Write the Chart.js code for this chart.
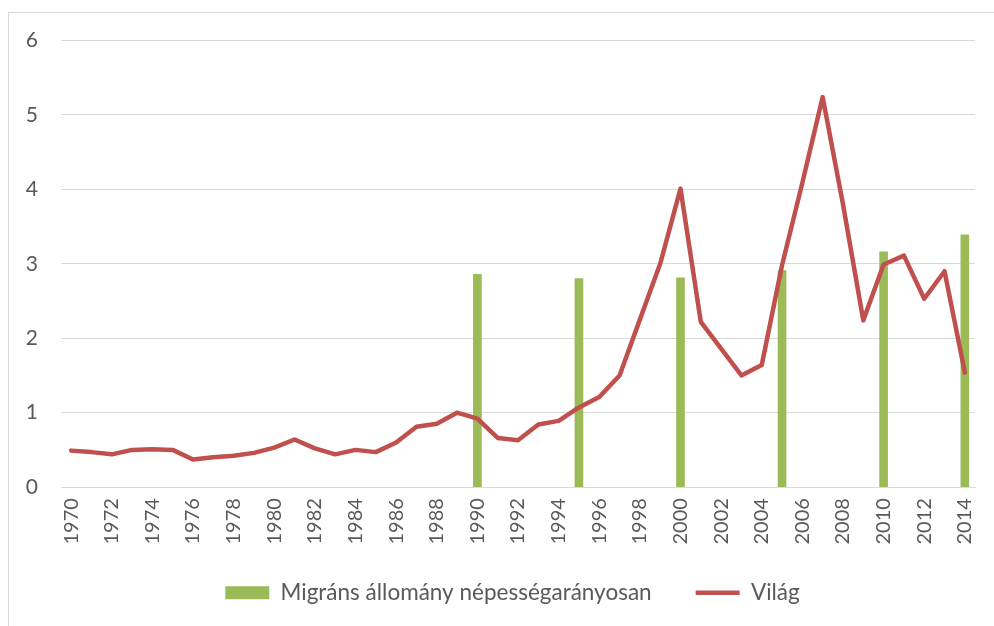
<!DOCTYPE html>
<html>
<head>
<meta charset="utf-8">
<script src="https://cdn.jsdelivr.net/npm/chart.js@4/dist/chart.umd.min.js"></script>
<style>
    html, body { margin: 0; padding: 0; background: #fff; }
    #wrap { position: relative; width: 994px; height: 626px; }
    #frame { position: absolute; left: 8px; top: 12px; width: 1000px; height: 700px; border: 1px solid #d9d9d9; box-sizing: border-box; }
    canvas { position: absolute; left: 0; top: 0; }
</style>
</head>
<body>
<div id="wrap">
    <div id="frame"></div>
    <canvas id="chart"></canvas>
</div>
<script>
// categories: every year 1970-2014
const years = [
    1970, 1971, 1972, 1973, 1974, 1975, 1976, 1977, 1978, 1979,
    1980, 1981, 1982, 1983, 1984, 1985, 1986, 1987, 1988, 1989,
    1990, 1991, 1992, 1993, 1994, 1995, 1996, 1997, 1998, 1999,
    2000, 2001, 2002, 2003, 2004, 2005, 2006, 2007, 2008, 2009,
    2010, 2011, 2012, 2013, 2014
];

// Világ (line)
const worldValues = [
    0.49, 0.47, 0.44, 0.50, 0.51, 0.50, 0.37, 0.40, 0.42, 0.46,
    0.53, 0.64, 0.52, 0.44, 0.50, 0.47, 0.60, 0.81, 0.85, 1.00,
    0.92, 0.66, 0.63, 0.84, 0.89, 1.07, 1.21, 1.50, 2.25, 3.00,
    4.01, 2.22, 1.86, 1.50, 1.64, 2.98, 4.09, 5.24, 3.80, 2.24,
    2.99, 3.11, 2.53, 2.90, 1.54
];

// Migráns állomány népességarányosan (bars, only some years)
const migrantYears = [1990, 1995, 2000, 2005, 2010, 2014];
const migrantValues = [2.86, 2.80, 2.81, 2.91, 3.16, 3.39];

const yTicks = [0, 1, 2, 3, 4, 5, 6];

const barData = years.map(y => {
    const i = migrantYears.indexOf(y);
    return i >= 0 ? migrantValues[i] : null;
});

const FONT = 'Lato, "Open Sans", sans-serif';
const GREY = '#595959';

// nudge the legend box after layout (it sits right of centre in the original)
const legendShift = {
    id: 'legendShift',
    afterLayout(chart) {
        const l = chart.legend;
        const dx = 25, dy = -18;
        l.left += dx; l.right += dx;
        l.top += dy; l.bottom += dy;
    }
};

const ctx = document.getElementById('chart').getContext('2d');
new Chart(ctx, {
    type: 'bar',
    data: {
        labels: years.map(String),
        datasets: [
            {
                type: 'bar',
                label: 'Migráns állomány népességarányosan',
                data: barData,
                backgroundColor: '#9bbb59',
                borderWidth: 0,
                barThickness: 8,
                pointStyle: 'rect',
                order: 1
            },
            {
                type: 'line',
                label: 'Világ',
                data: worldValues,
                borderColor: '#c0504d',
                backgroundColor: '#c0504d',
                borderWidth: 4.5,
                borderCapStyle: 'round',
                borderJoinStyle: 'round',
                tension: 0,
                pointRadius: 0,
                pointStyle: 'line',
                order: 0
            }
        ]
    },
    plugins: [legendShift],
    options: {
        responsive: true,
        maintainAspectRatio: false,
        animation: false,
        layout: {
            padding: { top: 40.5, right: 19, left: 0, bottom: -6 }
        },
        plugins: {
            tooltip: { enabled: false },
            legend: {
                position: 'bottom',
                labels: {
                    usePointStyle: true,
                    pointStyleWidth: 44,
                    boxHeight: 13,
                    padding: 44,
                    color: GREY,
                    font: { family: FONT, size: 22.5 },
                    sort: (a, b) => a.datasetIndex - b.datasetIndex
                }
            }
        },
        scales: {
            x: {
                offset: true,
                afterFit: scale => {
                    scale.paddingLeft = 0;
                    scale.paddingRight = 0;
                },
                grid: { display: false, drawTicks: false },
                border: { display: true, color: '#d9d9d9', width: 1 },
                ticks: {
                    autoSkip: false,
                    minRotation: 90,
                    maxRotation: 90,
                    padding: 11,
                    color: GREY,
                    font: { family: FONT, size: 20 },
                    callback: (val, i) => (i % 2 === 0 ? years[i] : '')
                }
            },
            y: {
                min: 0,
                max: 6,
                afterBuildTicks: scale => {
                    scale.ticks = yTicks.map(v => ({ value: v }));
                },
                afterFit: scale => {
                    scale.width = 61;
                },
                grid: { color: '#d9d9d9', lineWidth: 1, drawTicks: false },
                border: { display: false },
                ticks: {
                    padding: 23,
                    color: GREY,
                    font: { family: FONT, size: 21 }
                }
            }
        }
    }
});
</script>
</body>
</html>
